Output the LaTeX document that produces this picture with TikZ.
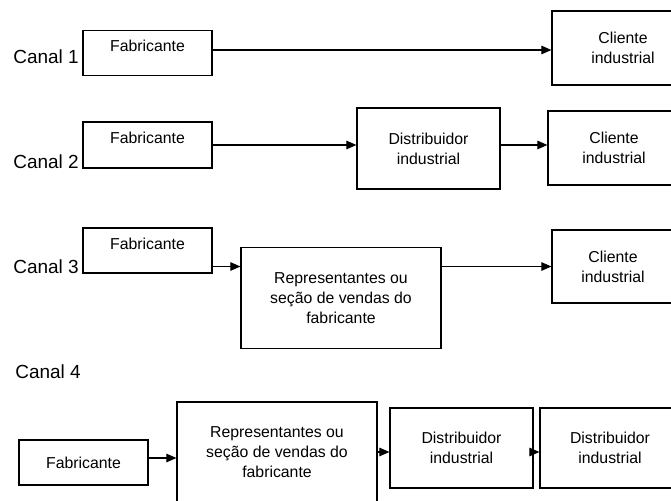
\documentclass[tikz,border=0pt]{standalone}
\usepackage{fontspec}
\setmainfont{Liberation Sans}
\usetikzlibrary{positioning,arrows.meta}

\tikzset{
    box/.style={draw, line width=0.7pt, align=center, inner sep=0pt,
        font=\fontsize{9}{11.3}\selectfont},
    fab/.style={box, minimum width=2.58cm, minimum height=0.9cm},
    dist/.style={box, minimum width=2.86cm, minimum height=1.6cm},
    rep/.style={box, minimum width=4cm, minimum height=2.02cm},
    cli/.style={box, minimum width=2.7cm, minimum height=1.48cm},
    boxtext/.style={inner sep=0pt, font=\fontsize{9}{11.3}\selectfont},
    canal/.style={anchor=west, inner sep=0pt, font=\fontsize{10.8}{13}\selectfont},
    flow/.style={line width=0.6pt, -{Triangle[length=0.2cm, width=0.17cm]}}
}

\begin{document}
\begin{tikzpicture}[x=0.02cm, y=-0.02cm]
        \useasboundingbox (0,0) rectangle (671,500);
        \clip (0,0) rectangle (671,500);
        % Canal 1
        \draw (13,57) node(c1) [canal] {Canal 1};
        \draw (147.5,53) node(fab1) [fab] {};
        \node (fab1t) [boxtext, below=0.2cm of fab1.north] {Fabricante};
        \draw (623,48) node(cli1) [cli, minimum width=2.84cm] {Cliente\\industrial};
        \coordinate (a1) at ([yshift=0.06cm]fab1.east);
        \draw[flow] (a1) -- (a1 -| cli1.west);
        % Canal 2
        \draw (13,162) node(c2) [canal] {Canal 2};
        \draw (147.5,145) node(fab2) [fab, minimum height=0.92cm] {};
        \node (fab2t) [boxtext, below=0.2cm of fab2.north] {Fabricante};
        \draw (428.5,148.5) node(dis2) [dist, minimum height=1.62cm] {Distribuidor\\industrial};
        \draw (614,148) node(cli2) [cli, minimum width=2.64cm] {Cliente\\industrial};
        \draw[flow] (fab2.east) -- (fab2.east -| dis2.west);
        \draw[flow] (dis2.east |- fab2.east) -- (fab2.east -| cli2.west);
        % Canal 3
        \draw (13,267) node(c3) [canal] {Canal 3};
        \draw (147.5,250.5) node(fab3) [fab] {};
        \node (fab3t) [boxtext, below=0.2cm of fab3.north] {Fabricante};
        \draw (341,298) node(rep3) [rep] {Representantes ou\\seção de vendas do\\fabricante};
        \draw (613,266.5) node(cli3) [cli, minimum width=2.44cm, minimum height=1.46cm] {Cliente\\industrial};
        \draw[flow] (fab3.east |- cli3.west) -- (rep3.west |- cli3.west);
        \draw[flow] (rep3.east |- cli3.west) -- (cli3.west);
        % Canal 4
        \draw (15,372) node(c4) [canal] {Canal 4};
        \draw (83.5,462.5) node(fab4) [fab] {Fabricante};
        \draw (277,452) node(rep4) [rep, minimum height=2cm] {Representantes ou\\seção de vendas do\\fabricante};
        \draw (461.5,448) node(dis4a) [dist] {Distribuidor\\industrial};
        \draw (610,448) node(dis4b) [dist, minimum width=2.8cm] {Distribuidor\\industrial};
        \coordinate (a4) at ([yshift=0.09cm]fab4.east);
        \draw[flow] (a4) -- (a4 -| rep4.west);
        \draw[flow] (rep4.east) -- (rep4.east -| dis4a.west);
        \draw[flow] (dis4a.east |- rep4.east) -- (rep4.east -| dis4b.west);
    \end{tikzpicture}
\end{document}
